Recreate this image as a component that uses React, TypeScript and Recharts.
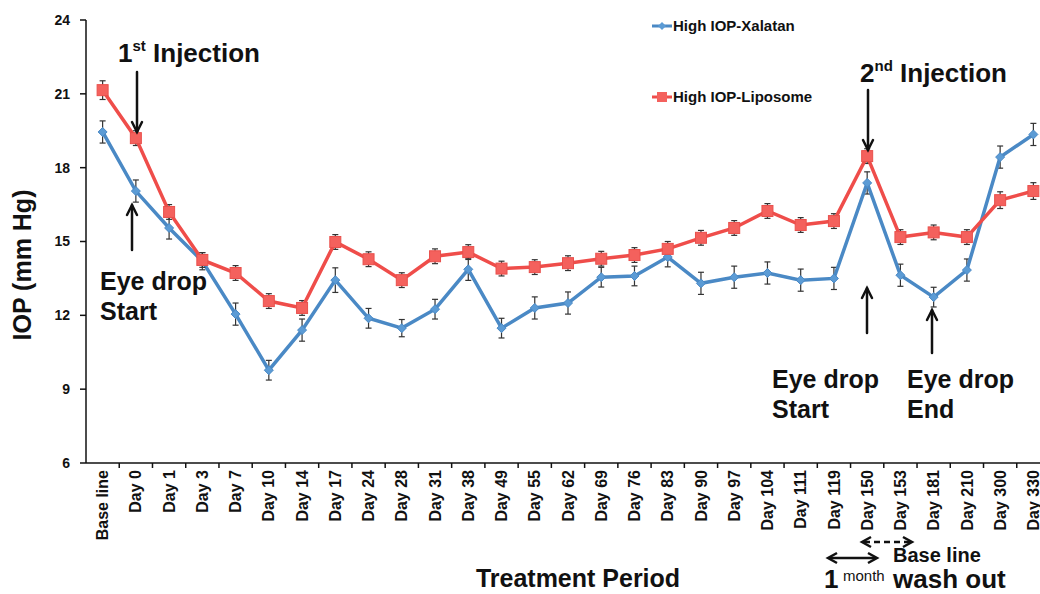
import React from 'react';
import { LineChart, Line, XAxis, YAxis, ErrorBar, Legend } from 'recharts';

const categories = [
  'Base line', 'Day 0', 'Day 1', 'Day 3', 'Day 7', 'Day 10', 'Day 14', 'Day 17',
  'Day 24', 'Day 28', 'Day 31', 'Day 38', 'Day 49', 'Day 55', 'Day 62', 'Day 69',
  'Day 76', 'Day 83', 'Day 90', 'Day 97', 'Day 104', 'Day 111', 'Day 119',
  'Day 150', 'Day 153', 'Day 181', 'Day 210', 'Day 300', 'Day 330',
];

const xalatanIOP = [
  19.45, 17.05, 15.55, 14.2, 12.05, 9.77, 11.4, 13.43, 11.88, 11.48, 12.25, 13.87,
  11.48, 12.3, 12.5, 13.55, 13.6, 14.37, 13.3, 13.55, 13.72, 13.43, 13.5, 17.38,
  13.63, 12.74, 13.84, 18.43, 19.35,
];
const xalatanSEM = [
  0.45, 0.45, 0.45, 0.35, 0.45, 0.4, 0.45, 0.5, 0.4, 0.35, 0.4, 0.45,
  0.4, 0.45, 0.45, 0.4, 0.4, 0.4, 0.45, 0.45, 0.45, 0.45, 0.45, 0.45,
  0.45, 0.4, 0.45, 0.45, 0.45,
];

const liposomeIOP = [
  21.15, 19.2, 16.2, 14.25, 13.72, 12.58, 12.3, 14.98, 14.28, 13.43, 14.4, 14.57,
  13.9, 13.96, 14.12, 14.3, 14.45, 14.7, 15.15, 15.55, 16.24, 15.67, 15.83, 18.47,
  15.18, 15.37, 15.18, 16.68, 17.05,
];
const liposomeSEM = [
  0.38, 0.3, 0.3, 0.3, 0.3, 0.3, 0.3, 0.3, 0.3, 0.3, 0.3, 0.3,
  0.3, 0.3, 0.3, 0.3, 0.3, 0.3, 0.3, 0.3, 0.3, 0.3, 0.3, 0.3,
  0.3, 0.3, 0.3, 0.34, 0.34,
];

const yTicks = [6, 9, 12, 15, 18, 21, 24];
const legendOrder = ['xalatan', 'liposome'];

const data = categories.map((day, i) => ({
  day,
  xalatan: xalatanIOP[i],
  xalErr: xalatanSEM[i],
  liposome: liposomeIOP[i],
  lipErr: liposomeSEM[i],
}));

const FONT = '"Liberation Sans", Arial, Helvetica, sans-serif';
const BLUE = '#4a89c5';
const RED = '#ef4d4a';
const INK = '#111';

const CHART_W = 1060;
const CHART_H = 594;
const Y_AXIS_W = 86;
const MARGIN = { top: 20, right: 10, left: 0, bottom: 0 };
const BAND = (CHART_W - MARGIN.left - MARGIN.right - Y_AXIS_W) / categories.length;

const DayTick = ({ x, y, payload }: any) => (
  <g>
    <line x1={x + BAND / 2} x2={x + BAND / 2} y1={y} y2={y + 5} stroke={INK} strokeWidth={1.5} />
    <g transform={`translate(${x},${y + 7}) rotate(-90)`}>
      <text x={0} y={0} dy="0.35em" textAnchor="end" fontFamily={FONT} fontWeight="bold" fontSize={16} fill={INK}>
        {payload.value}
      </text>
    </g>
  </g>
);

const diamondDot = (props: any) => {
  const { cx, cy, index } = props;
  const r = 4.5;
  return (
    <path
      key={`xd-${index}`}
      d={`M${cx},${cy - r} L${cx + r},${cy} L${cx},${cy + r} L${cx - r},${cy} Z`}
      fill="#5b9bd5"
      stroke={BLUE}
      strokeWidth={1}
    />
  );
};

const squareDot = (props: any) => {
  const { cx, cy, index } = props;
  const s = 11;
  return (
    <rect key={`ls-${index}`} x={cx - s / 2} y={cy - s / 2} width={s} height={s} fill="#f4615d" stroke="#e9504c" strokeWidth={1} />
  );
};

const LegendBox = ({ payload }: any) => {
  const items = [...(payload || [])].sort(
    (a: any, b: any) => legendOrder.indexOf(a.dataKey) - legendOrder.indexOf(b.dataKey),
  );
  return (
    <svg width={190} height={96} style={{ overflow: 'visible' }}>
      {items.map((it: any, i: number) => {
        const cy = 12 + i * 71;
        const isBlue = it.dataKey === 'xalatan';
        return (
          <g key={it.value}>
            <line x1={2} x2={22} y1={cy} y2={cy} stroke={it.color} strokeWidth={3} />
            {isBlue ? (
              <path d={`M12,${cy - 4} L16,${cy} L12,${cy + 4} L8,${cy} Z`} fill="#5b9bd5" />
            ) : (
              <rect x={7} y={cy - 5} width={10} height={10} fill="#f4615d" />
            )}
            <text x={23} y={cy} dy="0.35em" fontFamily={FONT} fontWeight="bold" fontSize={15} fill={INK}>
              {it.value}
            </text>
          </g>
        );
      })}
    </svg>
  );
};

const YTitle = () => (
  <text transform="translate(31,265) rotate(-90)" textAnchor="middle" fontFamily={FONT} fontWeight="bold" fontSize={25} fill={INK}>
    IOP (mm Hg)
  </text>
);

const XTitle = () => (
  <text x={578} y={587} textAnchor="middle" fontFamily={FONT} fontWeight="bold" fontSize={25} fill={INK}>
    Treatment Period
  </text>
);

function VArrow({ x, from, to }: { x: number; from: number; to: number }) {
  const d = to > from ? 1 : -1;
  return (
    <g stroke={INK} strokeWidth={2.5} fill="none" strokeLinecap="round">
      <line x1={x} y1={from} x2={x} y2={to} />
      <polyline points={`${x - 5},${to - d * 10} ${x},${to} ${x + 5},${to - d * 10}`} />
    </g>
  );
}

function HDoubleArrow({ x1, x2, y, dashed }: { x1: number; x2: number; y: number; dashed?: boolean }) {
  return (
    <g stroke={INK} strokeWidth={2.5} fill="none">
      <line x1={x1 + 2} y1={y} x2={x2 - 2} y2={y} strokeDasharray={dashed ? '6 4' : undefined} />
      <polyline points={`${x1 + 9},${y - 5} ${x1},${y} ${x1 + 9},${y + 5}`} />
      <polyline points={`${x2 - 9},${y - 5} ${x2},${y} ${x2 - 9},${y + 5}`} />
    </g>
  );
}

const txt = { fontFamily: FONT, fontWeight: 'bold' as const, fill: INK };

function Annotations() {
  return (
    <svg width={1040} height={594} style={{ position: 'absolute', left: 0, top: 0, pointerEvents: 'none' }}>
      <text x={118} y={62} fontSize={26} {...txt}>
        1<tspan fontSize={15} dy={-11}>st</tspan>
        <tspan dy={11}> Injection</tspan>
      </text>
      <VArrow x={137} from={72} to={132} />
      <VArrow x={132} from={250} to={205} />
      <text x={100} y={290} fontSize={25} {...txt}>Eye drop</text>
      <text x={100} y={320} fontSize={25} {...txt}>Start</text>

      <text x={860} y={82} fontSize={26} {...txt}>
        2<tspan fontSize={15} dy={-11}>nd</tspan>
        <tspan dy={11}> Injection</tspan>
      </text>
      <VArrow x={868} from={90} to={150} />
      <VArrow x={867} from={333} to={288} />
      <VArrow x={932} from={353} to={310} />
      <text x={772} y={388} fontSize={25} {...txt}>Eye drop</text>
      <text x={772} y={418} fontSize={25} {...txt}>Start</text>
      <text x={907} y={388} fontSize={25} {...txt}>Eye drop</text>
      <text x={907} y={418} fontSize={25} {...txt}>End</text>

      <HDoubleArrow x1={862} x2={912} y={542} dashed />
      <HDoubleArrow x1={828} x2={877} y={558} />
      <text x={893} y={562} fontSize={20} {...txt}>Base line</text>
      <text x={824} y={588} fontSize={26} {...txt}>1</text>
      <text x={843} y={581} fontSize={15} fontFamily={FONT} fill={INK}>month</text>
      <text x={893} y={588} fontSize={26} {...txt}>wash out</text>
    </svg>
  );
}

export default function App() {
  return (
    <div style={{ position: 'absolute', left: 0, top: 0, width: 1040, height: 594, overflow: 'hidden', background: '#fff' }}>
      <LineChart width={CHART_W} height={CHART_H} data={data} margin={MARGIN}>
        <XAxis
          dataKey="day"
          scale="band"
          interval={0}
          height={CHART_H - 463}
          tick={<DayTick />}
          tickLine={false}
          tickSize={0}
          tickMargin={0}
          axisLine={{ stroke: INK, strokeWidth: 1.5 }}
          label={<XTitle />}
        />
        <YAxis
          domain={[6, 24]}
          ticks={yTicks}
          interval={0}
          width={Y_AXIS_W}
          tickSize={6}
          tickMargin={10}
          tick={{ fontFamily: FONT, fontWeight: 'bold', fontSize: 14, fill: INK }}
          tickLine={{ stroke: INK, strokeWidth: 1.5 }}
          axisLine={{ stroke: INK, strokeWidth: 1.5 }}
          label={<YTitle />}
        />
        <Legend
          layout="vertical"
          align="center"
          verticalAlign="middle"
          content={<LegendBox />}
          wrapperStyle={{ top: 14, left: 650, width: 190 }}
        />
        <Line
          name="High IOP-Xalatan"
          dataKey="xalatan"
          type="linear"
          stroke={BLUE}
          strokeWidth={3.5}
          dot={diamondDot}
          activeDot={false}
          isAnimationActive={false}
        >
          <ErrorBar dataKey="xalErr" direction="y" width={3} stroke="#333" strokeWidth={1.2} />
        </Line>
        <Line
          name="High IOP-Liposome"
          dataKey="liposome"
          type="linear"
          stroke={RED}
          strokeWidth={3.5}
          dot={squareDot}
          activeDot={false}
          isAnimationActive={false}
        >
          <ErrorBar dataKey="lipErr" direction="y" width={3} stroke="#333" strokeWidth={1.2} />
        </Line>
      </LineChart>
      <Annotations />
    </div>
  );
}
